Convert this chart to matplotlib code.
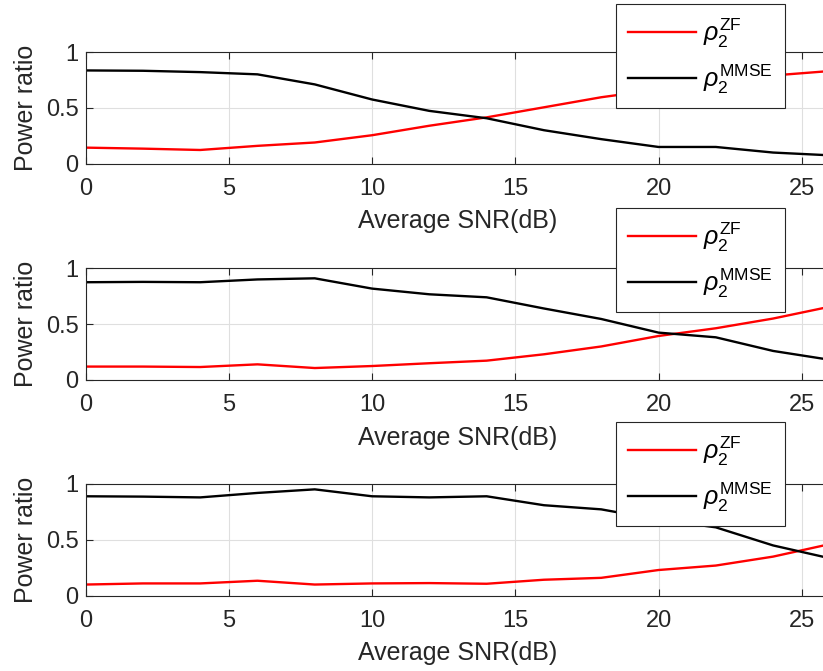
import matplotlib
matplotlib.use("Agg")
import matplotlib.pyplot as plt
import numpy as np

snr_db = [0, 2, 4, 6, 8, 10, 12, 14, 16, 18, 20, 22, 24, 26]

# top panel
zf_1 = [0.144, 0.135, 0.123, 0.16, 0.19, 0.255, 0.34, 0.415, 0.505, 0.595, 0.665, 0.725, 0.79, 0.83]
mmse_1 = [0.835, 0.832, 0.82, 0.80, 0.71, 0.575, 0.473, 0.407, 0.30, 0.22, 0.15, 0.15, 0.10, 0.075]

# middle panel
zf_2 = [0.12, 0.12, 0.116, 0.14, 0.107, 0.125, 0.15, 0.173, 0.23, 0.30, 0.394, 0.463, 0.55, 0.657]
mmse_2 = [0.875, 0.878, 0.875, 0.90, 0.91, 0.818, 0.767, 0.74, 0.64, 0.546, 0.424, 0.382, 0.26, 0.18]

# bottom panel
zf_3 = [0.10, 0.11, 0.11, 0.134, 0.10, 0.11, 0.113, 0.107, 0.143, 0.16, 0.23, 0.27, 0.35, 0.463]
mmse_3 = [0.89, 0.887, 0.88, 0.92, 0.952, 0.89, 0.88, 0.89, 0.81, 0.773, 0.68, 0.612, 0.45, 0.334]

panels = [(zf_1, mmse_1), (zf_2, mmse_2), (zf_3, mmse_3)]
x_ticks = [0, 5, 10, 15, 20, 25]
y_ticks = [0, 0.5, 1]
y_tick_labels = ["0", "0.5", "1"]
label_zf = r"$\rho_2^{\mathrm{ZF}}$"
label_mmse = r"$\rho_2^{\mathrm{MMSE}}$"

plt.rcParams["font.family"] = ["Liberation Sans", "DejaVu Sans"]
plt.rcParams["mathtext.fontset"] = "custom"
plt.rcParams["mathtext.rm"] = "Liberation Sans"
plt.rcParams["mathtext.it"] = "Liberation Sans:italic"
plt.rcParams["mathtext.sf"] = "Liberation Sans"

AX_COLOR = "#262626"

fig = plt.figure(figsize=(8.23, 6.71), dpi=100)

ax_bottoms = [0.756, 0.4337, 0.1122]
leg_tops = [0.994, 0.690, 0.371]

for (zf, mmse), bottom, leg_top in zip(panels, ax_bottoms, leg_tops):
    ax = fig.add_axes([0.104, bottom, 0.905, 0.1665])
    l1, = ax.plot(snr_db, zf, color="red", lw=1.7)
    l2, = ax.plot(snr_db, mmse, color="black", lw=1.7)
    ax.set_xlim(0, 26)
    ax.set_ylim(0, 1)
    ax.set_xticks(x_ticks)
    ax.set_yticks(y_ticks)
    ax.set_yticklabels(y_tick_labels)
    ax.grid(True, color="#dfdfdf", lw=0.8)
    ax.set_axisbelow(True)
    ax.tick_params(direction="in", top=True, right=True, length=5, width=0.8,
                   colors=AX_COLOR, labelsize=17)
    ax.tick_params(axis="x", pad=10)
    ax.tick_params(axis="y", pad=5)
    for s in ax.spines.values():
        s.set_color(AX_COLOR)
        s.set_linewidth(0.8)
    ax.set_xlabel("Average SNR(dB)", fontsize=18, color=AX_COLOR, labelpad=7)
    ax.set_ylabel("Power ratio", fontsize=18, color=AX_COLOR, labelpad=6)
    leg = ax.legend([l1, l2], [label_zf, label_mmse], loc="upper left",
                    bbox_to_anchor=(0.748, leg_top), bbox_transform=fig.transFigure,
                    borderaxespad=0, fontsize=18, handlelength=2.7,
                    labelspacing=0.5, fancybox=False, framealpha=1,
                    edgecolor=AX_COLOR, borderpad=0.5, handletextpad=0.3)
    leg.get_frame().set_linewidth(0.8)

fig.savefig("out.png", dpi=100)
